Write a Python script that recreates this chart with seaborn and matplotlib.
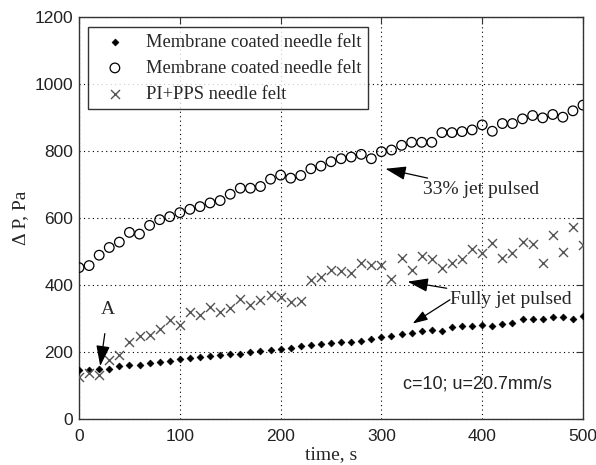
import numpy as np
import pandas as pd
import matplotlib
matplotlib.use("Agg")
import matplotlib.pyplot as plt
import seaborn as sns

time_s = list(range(0, 501, 10))

membrane_full = [145, 145, 150, 150, 158, 161, 161, 167, 171, 174,
                 178, 182, 186, 188, 192, 194, 194, 200, 203, 206,
                 210, 213, 217, 221, 224, 227, 230, 230, 234, 238,
                 245, 248, 254, 256, 262, 266, 262, 274, 277, 277,
                 280, 278, 284, 288, 298, 298, 298, 305, 305, 298,
                 308]

membrane_33 = [452, 458, 489, 512, 528, 557, 552, 578, 595, 604,
               616, 626, 634, 645, 652, 671, 689, 689, 694, 716,
               728, 719, 727, 747, 755, 768, 777, 782, 790, 777,
               798, 803, 817, 826, 826, 826, 855, 855, 858, 863,
               878, 859, 882, 882, 896, 906, 899, 909, 901, 920,
               937]

pi_pps = [125, 138, 130, 175, 190, 230, 247, 252, 268, 297,
          280, 320, 310, 333, 320, 332, 357, 340, 355, 370,
          365, 350, 352, 415, 425, 445, 442, 437, 467, 460,
          460, 418, 480, 445, 487, 477, 452, 465, 477, 508,
          495, 525, 480, 495, 527, 522, 467, 550, 498, 572,
          518]

series_labels = ["Membrane coated needle felt",
                 "Membrane coated needle felt ",
                 "PI+PPS needle felt"]
x_ticks = [0, 100, 200, 300, 400, 500]
y_ticks = [0, 200, 400, 600, 800, 1000, 1200]

sns.set_style("white")
serif = ["Liberation Serif", "DejaVu Serif"]
sans = ["Liberation Sans", "DejaVu Sans"]

fig = plt.figure(figsize=(5.96, 4.65), dpi=100)
ax = fig.add_axes([0.1326, 0.0989, 0.8456, 0.8645])

df = pd.DataFrame({
    "t": time_s * 3,
    "dp": membrane_full + membrane_33 + pi_pps,
    "series": [series_labels[0]] * len(time_s) + [series_labels[1]] * len(time_s)
              + [series_labels[2]] * len(time_s),
})

sns.scatterplot(data=df[df.series == series_labels[0]], x="t", y="dp", ax=ax,
                marker="D", s=12, color="black", edgecolor="black", linewidth=0.5,
                label=series_labels[0].strip(), zorder=3)
sns.scatterplot(data=df[df.series == series_labels[1]], x="t", y="dp", ax=ax,
                marker="o", s=48, facecolor="none", edgecolor="black", linewidth=0.9,
                label=series_labels[1].strip(), zorder=3)
sns.scatterplot(data=df[df.series == series_labels[2]], x="t", y="dp", ax=ax,
                marker="x", s=42, color="#555555", linewidth=1.0,
                label=series_labels[2], zorder=3)

ax.set_xlim(0, 500)
ax.set_ylim(0, 1200)
ax.set_xticks(x_ticks)
ax.set_yticks(y_ticks)
ax.set_xticklabels([str(v) for v in x_ticks], family=sans, fontsize=12.5, color="#222222")
ax.set_yticklabels([str(v) for v in y_ticks], family=sans, fontsize=12.5, color="#222222")
ax.tick_params(direction="in", length=5, top=True, right=True, width=0.8, color="#333333")
ax.tick_params(axis="x", pad=7)
ax.tick_params(axis="y", pad=4)
ax.grid(True, linestyle=(0, (1, 3)), color="black", linewidth=0.8)
for sp in ax.spines.values():
    sp.set_color("#333333")
    sp.set_linewidth(1.0)

ax.set_xlabel("time, s", family=serif, fontsize=14, labelpad=2)
ax.set_ylabel("Δ P, Pa", family=serif, fontsize=14, labelpad=4)

leg = ax.legend(loc="upper left", bbox_to_anchor=(0.018, 0.975), prop={"family": serif, "size": 13.3},
                frameon=True, fancybox=False, edgecolor="black", borderpad=0.35,
                labelspacing=0.5, handletextpad=0.6, borderaxespad=0.0, handlelength=2.2)
leg.get_frame().set_linewidth(1.0)

arrow = dict(arrowstyle="-|>,head_length=0.9,head_width=0.3", color="black", lw=0.9,
             shrinkA=0, shrinkB=0)
ax.annotate("33% jet pulsed", xy=(304, 747), xytext=(341, 684), family=serif, fontsize=14,
            va="center", ha="left", arrowprops=arrow)
ax.annotate("Fully jet pulsed", xy=(326, 410), xytext=(368, 358), family=serif, fontsize=14,
            va="center", ha="left", arrowprops=arrow)
ax.annotate("", xy=(331, 285), xytext=(368, 356), arrowprops=arrow)
ax.annotate("A", xy=(21, 158), xytext=(29, 327), family=serif, fontsize=14,
            va="center", ha="center",
            arrowprops=dict(arrowstyle="-|>,head_length=0.9,head_width=0.3", color="black",
                            lw=0.9, shrinkA=9, shrinkB=0))
ax.text(321, 105, "c=10; u=20.7mm/s", family=sans, fontsize=13, va="center", ha="left",
        color="#222222")

fig.savefig("out.png", dpi=100)
